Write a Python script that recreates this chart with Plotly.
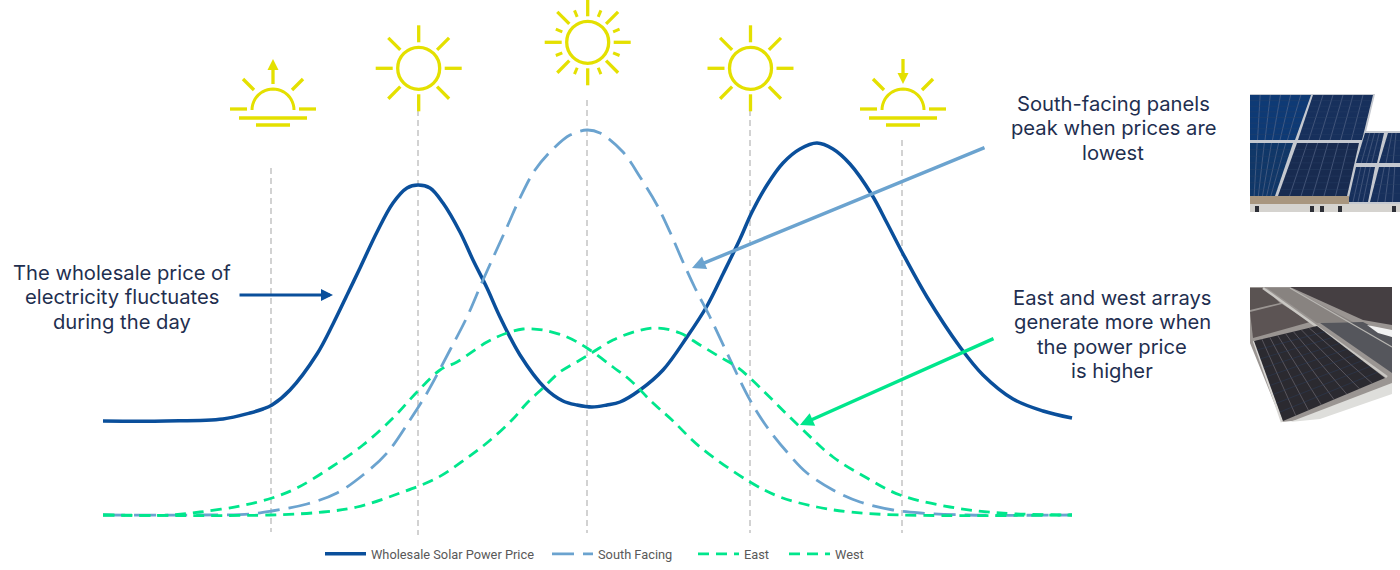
import math
import plotly.graph_objects as go

# Hidden relative scales: x = position through the day, y = relative level above the zero baseline
price_x = [103,166,223,250,263,272,290,317,333,348,360,377,393,407,418,430,443,460,473,487,500,520,545,563,577,592,607,620,640,663,687,707,723,740,752,767,783,800,817,833,850,872,887,902,927,960,983,1013,1043,1072]
price_y = [94,94,96,102,106,110,125,161,191,222,247,283,312,327,330,327,312,283,255,227,198,160,127,114,110,108,110,113,125,145,178,209,241,276,303,330,352,366,372,366,351,320,292,263,218,168,140,116,104,97]
south_x = [103,200,250,272,307,337,363,387,410,427,450,467,483,507,520,535,555,570,587,600,623,640,657,670,683,695,710,727,750,767,787,807,833,860,893,920,967,1072]
south_y = [0,0,1,4,11,22,40,62,95,122,165,198,235,288,317,345,368,380,385,382,363,338,310,283,253,227,198,162,115,88,63,42,25,13,5,2,0,0]
east_x = [103,170,200,240,272,297,330,363,393,417,440,457,487,507,523,543,567,587,613,630,653,672,700,750,780,817,850,900,1072]
east_y = [0,0,3,9,17,27,47,70,97,123,145,153,173,182,186,185,178,167,148,135,112,95,68,33,18,8,3,0,0]
west_x = [103,270,323,357,400,437,467,488,512,527,543,560,580,593,613,637,657,680,700,720,737,750,800,833,867,900,950,1000,1072]
west_y = [0,0,3,8,22,37,57,73,95,112,127,143,155,163,175,184,187,182,170,158,148,137,88,58,37,20,8,2,0]
series_names = ["Wholesale Solar Power Price", "South Facing", "East", "West"]
sun_x = [271, 418, 587, 750, 902]
guide_top = [347, 415, 415, 415, 375]
guide_bottom = [-17, -20, -18, -18, -18]

NAVY = "#0a4f9b"; BLUE = "#6ba3cf"; GREEN = "#00e68c"; SUN = "#e4e000"; INK = "#1f2f50"

fig = go.Figure()
def curve(x, y, name, color, width, dash, lw):
    fig.add_trace(go.Scatter(x=x, y=y, name=name, mode="lines", legendwidth=lw,
                             line=dict(color=color, width=width, dash=dash, shape="spline", smoothing=1.0),
                             hoverinfo="skip"))
curve(price_x, price_y, series_names[0], NAVY, 3.5, "solid", 171)
curve(south_x, south_y, series_names[1], BLUE, 2.8, "22px,9px", 90)
curve(east_x, east_y, series_names[2], GREEN, 2.8, "11px,7px", 35)
curve(west_x, west_y, series_names[3], GREEN, 2.8, "11px,7px", 60)

shapes = []
Y = lambda py: 515 - py

def seg(x0, y0, x1, y1, color=SUN, w=3.3, dash=None, layer="above"):
    shapes.append(dict(type="line", x0=x0, y0=Y(y0), x1=x1, y1=Y(y1), layer=layer,
                       line=dict(color=color, width=w, dash=dash)))

def poly(points, fill, line=None, lw=0):
    d = "M " + " L ".join(f"{x},{Y(y)}" for x, y in points) + " Z"
    shapes.append(dict(type="path", path=d, fillcolor=fill, layer="above",
                       line=dict(color=line or fill, width=lw)))

for x, top, bot in zip(sun_x, guide_top, guide_bottom):
    shapes.append(dict(type="line", x0=x, x1=x, y0=top, y1=bot, layer="below",
                       line=dict(color="#d2d2d2", width=2, dash="6px,4px")))

def sun(cx, cy, small=False):
    shapes.append(dict(type="circle", x0=cx-21, x1=cx+21, y0=Y(cy-21), y1=Y(cy+21),
                       line=dict(color=SUN, width=3.3)))
    for k in range(8):
        a = k * math.pi / 4
        seg(cx+26*math.cos(a), cy+26*math.sin(a), cx+43*math.cos(a), cy+43*math.sin(a))
    if small:
        for k in range(8):
            a = math.pi/8 + k*math.pi/4
            seg(cx+27.5*math.cos(a), cy+27.5*math.sin(a), cx+34.5*math.cos(a), cy+34.5*math.sin(a), w=3)

def horizon(cx, up):
    r = 21; cy = 110
    pts = " L ".join(f"{cx+r*math.cos(t*math.pi/24)},{Y(cy-r*math.sin(t*math.pi/24))}" for t in range(25))
    shapes.append(dict(type="path", path="M "+pts, line=dict(color=SUN, width=3)))
    seg(cx-43, 109, cx-26, 109); seg(cx+26, 109, cx+43, 109)
    seg(cx-30, 79, cx-19, 90); seg(cx+30, 79, cx+19, 90)
    seg(cx-34, 118, cx+34, 118); seg(cx-17, 125, cx+17, 125)
    if up:
        seg(cx, 84, cx, 68)
        poly([(cx, 59), (cx-5.5, 70), (cx+5.5, 70)], SUN)
    else:
        seg(cx, 59, cx, 74)
        poly([(cx, 84), (cx-5.5, 73), (cx+5.5, 73)], SUN)

horizon(273, True); sun(418.7, 68.3); sun(587.7, 42.3, True); sun(750.5, 68.3); horizon(903, False)

# South-facing photo, drawn as panels
def panel(c, fill, nu=6, nv=8, grid="#5f6f90"):
    poly(c, fill)
    def p(u, v):
        tx = (c[0][0]*(1-u)+c[1][0]*u, c[0][1]*(1-u)+c[1][1]*u)
        bx = (c[3][0]*(1-u)+c[2][0]*u, c[3][1]*(1-u)+c[2][1]*u)
        return tx[0]*(1-v)+bx[0]*v, tx[1]*(1-v)+bx[1]*v
    for i in range(1, nu):
        a = p(i/nu, 0); b = p(i/nu, 1); seg(a[0], a[1], b[0], b[1], grid, 0.6)
    for j in range(1, nv):
        a = p(0, j/nv); b = p(1, j/nv); seg(a[0], a[1], b[0], b[1], "#2c4166", 0.4)

poly([(1250,94),(1375,94),(1349,204),(1250,204)], "#c4c8cf")
poly([(1364,131),(1400,131),(1400,206),(1348,206)], "#c4c8cf")
panel([(1250,95),(1311,95),(1295,140),(1250,140)], "#0e3a75")
panel([(1313,95),(1373,95),(1362,140),(1298,140)], "#17305c")
panel([(1250,143),(1293,143),(1275,196),(1250,196)], "#103768")
panel([(1297,143),(1359,143),(1347,196),(1278,196)], "#182b50")
panel([(1365,133),(1384,133),(1377,163),(1356,163)], "#17305c", 4, 4)
panel([(1388,133),(1400,133),(1400,163),(1379,163)], "#17305c", 3, 4)
panel([(1356,167),(1375,167),(1368,202),(1348,202)], "#17305c", 4, 4)
panel([(1379,167),(1400,167),(1400,202),(1370,202)], "#17305c", 4, 4)
poly([(1250,196),(1349,196),(1349,204),(1250,204)], "#a8967f")
poly([(1250,204),(1400,204),(1400,212),(1250,212)], "#d5d3cf")
for x in (1255, 1310, 1320, 1338, 1392):
    poly([(x,206),(x+4,206),(x+4,212),(x,212)], "#2d2f36")

# East/west photo, drawn as panels
poly([(1250,287),(1392,287),(1392,393),(1320,418),(1282,422),(1250,343)], "#9a9592")
poly([(1250,288),(1265,288),(1280,303),(1250,310)], "#5a5352")
poly([(1250,312),(1282,304),(1310,322),(1253,338)], "#5c5454")
poly([(1267,288),(1290,288),(1353,322),(1317,323)], "#888380")
poly([(1290,287),(1392,287),(1392,325),(1363,320)], "#453f42")
poly([(1320,323),(1363,322),(1392,337),(1392,373)], "#55565c")
poly([(1367,325),(1392,330),(1392,337),(1378,333)], "#f2f2f2")
seg(1263, 288, 1387, 377, "#c9c7c3", 2.5)
seg(1290, 288, 1392, 347, "#b9b7b3", 1.2)
seg(1254, 341, 1282, 422, "#d9d7d4", 2.5)
poly([(1290,422),(1392,383),(1392,394),(1320,419)], "#dededb")
panel([(1254,341),(1317,326),(1385,378),(1283,421)], "#2b2a30", 8, 9, "#77727a")

fig.update_layout(shapes=shapes)

# Call-out arrows
for (tx, ty, ax, ay, col, w) in [(333,295,238,295,NAVY,3), (692,268,986,147,BLUE,3.4), (800,425,995,338,GREEN,3.4)]:
    fig.add_annotation(x=tx, y=Y(ty), ax=ax, ay=Y(ay), xref="x", yref="y", axref="x", ayref="y", text="",
                       showarrow=True, arrowhead=2, arrowsize=0.8, arrowwidth=w, arrowcolor=col)

notes = [
    (122, 272, "The wholesale price of"), (122, 296, "electricity fluctuates"), (122, 321, "during the day"),
    (1113, 103, "South-facing panels"), (1113, 127, "peak when prices are"), (1113, 152, "lowest"),
    (1112, 297, "East and west arrays"), (1112, 321, "generate more when"),
    (1112, 346, "the power price"), (1112, 370, "is higher"),
]
for x, py, txt in notes:
    fig.add_annotation(x=x, y=Y(py), xref="x", yref="y", text=txt, showarrow=False, align="center",
                       xanchor="center", yanchor="middle", font=dict(family="Inter", size=20.2, color=INK))

fig.update_layout(
    width=1400, height=570, margin=dict(l=0, r=0, t=0, b=0),
    paper_bgcolor="white", plot_bgcolor="white",
    xaxis=dict(range=[0, 1400], visible=False, fixedrange=True),
    yaxis=dict(range=[-55, 515], visible=False, fixedrange=True),
    legend=dict(orientation="h", x=320/1400, xanchor="left", y=16/570, yanchor="middle",
                bgcolor="rgba(0,0,0,0)", itemwidth=41, tracegroupgap=0,
                font=dict(family="Roboto", size=12.8, color="#595959")),
)
fig.write_html("out.html", config={"displayModeBar": False},
               post_script="document.body.style.margin='0';document.body.style.overflow='hidden';")
